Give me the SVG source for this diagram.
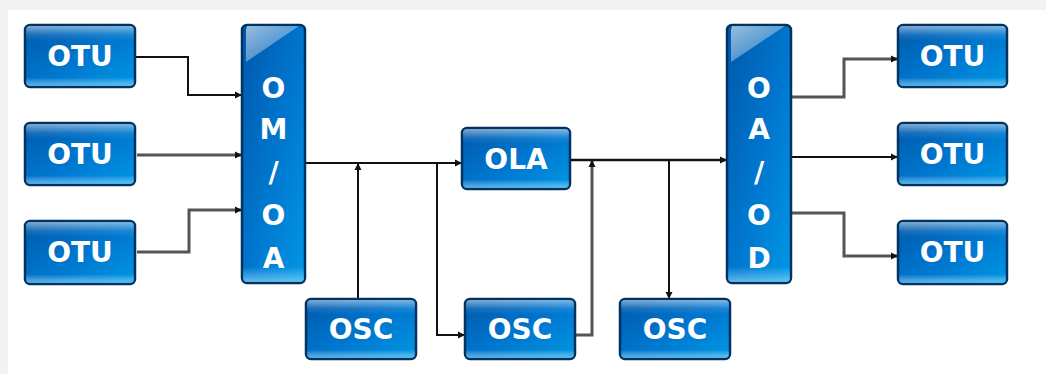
<svg xmlns="http://www.w3.org/2000/svg" width="1046" height="374" viewBox="0 0 1046 374">
<defs>
<linearGradient id="bg" x1="0" y1="0" x2="1" y2="1">
<stop offset="0" stop-color="#0058aa"/>
<stop offset="0.55" stop-color="#0078d0"/>
<stop offset="1" stop-color="#0098e4"/>
</linearGradient>
<linearGradient id="gloss" x1="0" y1="0" x2="0" y2="1">
<stop offset="0" stop-color="#ffffff" stop-opacity="0.5"/>
<stop offset="0.15" stop-color="#ffffff" stop-opacity="0.1"/>
<stop offset="0.25" stop-color="#ffffff" stop-opacity="0"/>
<stop offset="0.86" stop-color="#ffffff" stop-opacity="0"/>
<stop offset="1" stop-color="#9fe4ff" stop-opacity="0.55"/>
</linearGradient>
<linearGradient id="glossT" x1="0" y1="0" x2="1" y2="1">
<stop offset="0" stop-color="#ffffff" stop-opacity="0.6"/>
<stop offset="1" stop-color="#ffffff" stop-opacity="0.1"/>
</linearGradient>
<linearGradient id="glossB" x1="0" y1="0" x2="0" y2="1">
<stop offset="0" stop-color="#9fe4ff" stop-opacity="0"/>
<stop offset="0.94" stop-color="#9fe4ff" stop-opacity="0"/>
<stop offset="1" stop-color="#9fe4ff" stop-opacity="0.6"/>
</linearGradient>
<marker id="arr" markerWidth="8" markerHeight="8" refX="7" refY="4" orient="auto" markerUnits="userSpaceOnUse">
<path d="M0,0.5 L7,4 L0,7.5 Z" fill="#111"/>
</marker>
<style>
.box{fill:url(#bg);stroke:#00335f;stroke-width:2.5}
.gl{fill:url(#gloss);stroke:none}
.glT{fill:url(#glossT);stroke:none}
.glB{fill:url(#glossB);stroke:none}
.t{font-family:"DejaVu Sans","Liberation Sans",sans-serif;font-weight:bold;font-size:28px;fill:#ffffff;text-anchor:middle}
.c{fill:none;stroke:#111;stroke-width:2}
.g{fill:none;stroke:#555;stroke-width:3}
</style>
</defs>
<rect x="0" y="0" width="1046" height="374" fill="#f2f2f2"/>
<rect x="8" y="10" width="1038" height="364" fill="#ffffff"/>

<g id="connectors">
<path class="c" d="M135,57 H188 V95 H242" marker-end="url(#arr)"/>
<path class="g" d="M137,155 H242" marker-end="url(#arr)"/>
<path class="g" d="M137,252 H189 V210 H242" marker-end="url(#arr)"/>
<path class="c" d="M305,163 H462" marker-end="url(#arr)"/>
<path class="c" d="M358,299 V163" marker-end="url(#arr)"/>
<path class="c" d="M437,163 V335 H465" marker-end="url(#arr)"/>
<path class="g" d="M575,335 H592 V160" marker-end="url(#arr)"/>
<path class="c" d="M570,160 H727" marker-end="url(#arr)" style="stroke-width:2.5"/>
<path class="c" d="M669,160 V299" marker-end="url(#arr)"/>
<path class="g" d="M791,97 H844 V59 H898" marker-end="url(#arr)"/>
<path class="c" d="M791,157 H898" marker-end="url(#arr)"/>
<path class="g" d="M791,213 H844 V256 H898" marker-end="url(#arr)"/>
</g>

<g id="otu-l1"><rect class="box" x="25" y="25" width="110" height="62" rx="5"/><rect class="gl" x="26" y="26" width="108" height="60" rx="4"/><text class="t" x="80" y="66">OTU</text></g>
<g id="otu-l2"><rect class="box" x="25" y="123" width="110" height="62" rx="5"/><rect class="gl" x="26" y="124" width="108" height="60" rx="4"/><text class="t" x="80" y="164">OTU</text></g>
<g id="otu-l3"><rect class="box" x="25" y="221" width="110" height="63" rx="5"/><rect class="gl" x="26" y="222" width="108" height="61" rx="4"/><text class="t" x="80" y="262">OTU</text></g>

<g id="om-oa"><rect class="box" x="242" y="25" width="63" height="258" rx="5"/><path class="glT" d="M247,26 H299 L246,62 V30 Z"/><rect class="glB" x="243" y="26" width="61" height="256" rx="4"/>
<text class="t" x="273.5" y="98">O</text><text class="t" x="273.5" y="139">M</text><text class="t" x="273.5" y="182">/</text><text class="t" x="273.5" y="225">O</text><text class="t" x="273.5" y="268">A</text></g>

<g id="ola"><rect class="box" x="462" y="128" width="108" height="61" rx="5"/><rect class="gl" x="463" y="129" width="106" height="59" rx="4"/><text class="t" x="516" y="169">OLA</text></g>

<g id="osc1"><rect class="box" x="306" y="299" width="110" height="60" rx="5"/><rect class="gl" x="307" y="300" width="108" height="58" rx="4"/><text class="t" x="361" y="339">OSC</text></g>
<g id="osc2"><rect class="box" x="465" y="299" width="110" height="60" rx="5"/><rect class="gl" x="466" y="300" width="108" height="58" rx="4"/><text class="t" x="520" y="339">OSC</text></g>
<g id="osc3"><rect class="box" x="620" y="299" width="110" height="60" rx="5"/><rect class="gl" x="621" y="300" width="108" height="58" rx="4"/><text class="t" x="675" y="339">OSC</text></g>

<g id="oa-od"><rect class="box" x="727" y="25" width="64" height="258" rx="5"/><path class="glT" d="M732,26 H785 L731,62 V30 Z"/><rect class="glB" x="728" y="26" width="62" height="256" rx="4"/>
<text class="t" x="759" y="98">O</text><text class="t" x="759" y="139">A</text><text class="t" x="759" y="182">/</text><text class="t" x="759" y="225">O</text><text class="t" x="759" y="268">D</text></g>

<g id="otu-r1"><rect class="box" x="898" y="25" width="109" height="62" rx="5"/><rect class="gl" x="899" y="26" width="107" height="60" rx="4"/><text class="t" x="952.5" y="66">OTU</text></g>
<g id="otu-r2"><rect class="box" x="898" y="123" width="109" height="62" rx="5"/><rect class="gl" x="899" y="124" width="107" height="60" rx="4"/><text class="t" x="952.5" y="164">OTU</text></g>
<g id="otu-r3"><rect class="box" x="898" y="221" width="109" height="63" rx="5"/><rect class="gl" x="899" y="222" width="107" height="61" rx="4"/><text class="t" x="952.5" y="262">OTU</text></g>
</svg>
